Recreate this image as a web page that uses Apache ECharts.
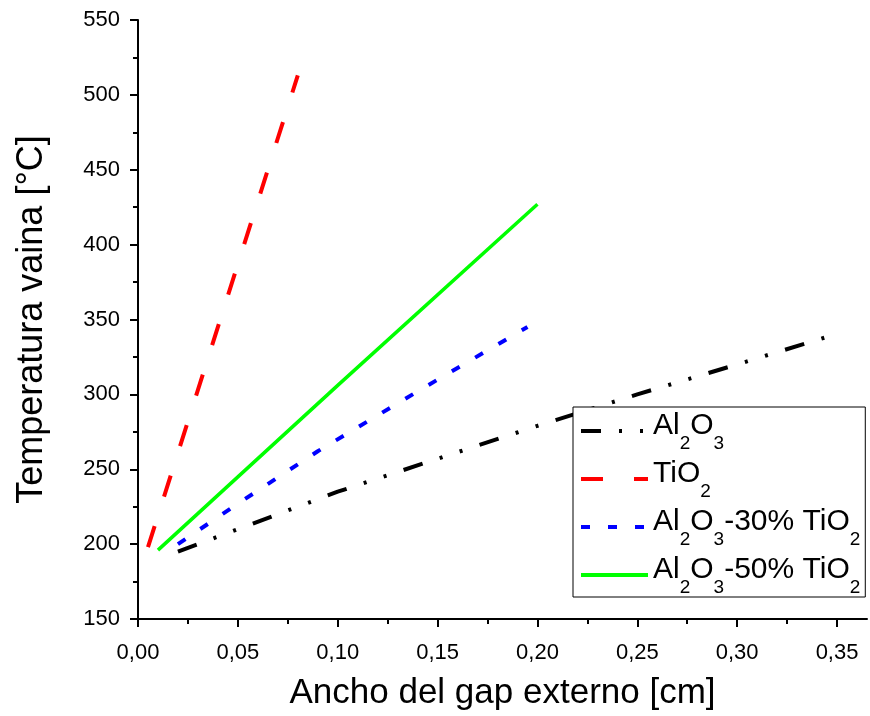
<!DOCTYPE html>
<html>
<head>
<meta charset="utf-8">
<script src="https://cdn.jsdelivr.net/npm/echarts@6/dist/echarts.min.js"></script>
<style>
  html, body { margin: 0; padding: 0; background: #fff; }
  #chart { width: 870px; height: 716px; }
</style>
</head>
<body>
<div id="chart"></div>
<script>
// values
var seriesNames = ['Al2O3', 'TiO2', 'Al2O3-30% TiO2', 'Al2O3-50% TiO2'];

var al2o3X = [0.02, 0.05, 0.10, 0.15, 0.20, 0.25, 0.30, 0.344];
var al2o3Y = [195, 210, 235, 257, 279, 300, 320, 338];

var tio2X = [0.005, 0.08];
var tio2Y = [198, 513];

var mix30X = [0.02, 0.05, 0.09, 0.14, 0.195];
var mix30Y = [200, 227, 262, 302, 345];

var mix50X = [0.01, 0.10, 0.20];
var mix50Y = [196, 306, 427];

var xMajorTicks = [0, 0.05, 0.10, 0.15, 0.20, 0.25, 0.30, 0.35];
var xMinorTicks = [0.025, 0.075, 0.125, 0.175, 0.225, 0.275, 0.325];

// legend labels with subscripts
var legendRich = {
    'Al2O3': '{n|Al}{s|2}{n|O}{s|3}',
    'TiO2': '{n|TiO}{s|2}',
    'Al2O3-30% TiO2': '{n|Al}{s|2}{n|O}{s|3}{n|-30% TiO}{s|2}',
    'Al2O3-50% TiO2': '{n|Al}{s|2}{n|O}{s|3}{n|-50% TiO}{s|2}'
};

function pairs(xs, ys) {
    var out = [];
    for (var i = 0; i < xs.length; i++) out.push([xs[i], ys[i]]);
    return out;
}

var fontFam = '"Liberation Sans", Arial, sans-serif';

var chart = echarts.init(document.getElementById('chart'));

var option = {
    backgroundColor: '#fff',
    animation: false,
    grid: { left: 138, top: 20, right: 3, bottom: 96 },
    legend: {
        orient: 'vertical',
        left: 573,
        top: 407,
        padding: [2, 5, 0, 6],
        itemGap: 4,
        itemWidth: 67,
        itemHeight: 14,
        backgroundColor: '#fff',
        borderColor: '#000',
        borderWidth: 1,
        z: 10,
        data: seriesNames,
        itemStyle: { opacity: 0 },
        lineStyle: { width: 4 },
        formatter: function (name) { return legendRich[name]; },
        textStyle: {
            fontFamily: fontFam,
            color: '#000',
            rich: {
                n: { fontSize: 30, lineHeight: 34, fontFamily: fontFam, color: '#000', padding: [0, 0, 10, 0] },
                s: { fontSize: 19, lineHeight: 20, fontFamily: fontFam, color: '#000', padding: [25, 0, 0, 0] }
            }
        }
    },
    xAxis: [{
        type: 'value',
        min: 0,
        max: 0.365,
        interval: 0.05,
        name: 'Ancho del gap externo [cm]',
        nameLocation: 'middle',
        nameGap: 57,
        nameTextStyle: { fontSize: 35, fontFamily: fontFam, color: '#000' },
        axisLine: { show: true, lineStyle: { color: '#000', width: 2 } },
        axisTick: { show: true, length: 8, inside: false, customValues: xMajorTicks,
            lineStyle: { color: '#000', width: 2 } },
        axisLabel: {
            customValues: xMajorTicks,
            fontSize: 22, fontFamily: fontFam, color: '#000', margin: 23,
            formatter: function (v) { return v.toFixed(2).replace('.', ','); }
        },
        splitLine: { show: false }
    }, {
        type: 'value',
        min: 0,
        max: 0.365,
        position: 'bottom',
        axisLine: { show: false },
        axisTick: { show: true, length: 5, customValues: xMinorTicks,
            lineStyle: { color: '#000', width: 2 } },
        axisLabel: { show: false },
        splitLine: { show: false }
    }],
    yAxis: {
        type: 'value',
        min: 150,
        max: 550,
        interval: 50,
        name: 'Temperatura vaina [°C]',
        nameLocation: 'middle',
        nameGap: 88,
        nameTextStyle: { fontSize: 36, fontFamily: fontFam, color: '#000' },
        axisLine: { show: true, lineStyle: { color: '#000', width: 2 } },
        axisTick: { show: true, length: 8, lineStyle: { color: '#000', width: 2 } },
        minorTick: { show: true, splitNumber: 2, length: 5, lineStyle: { color: '#000', width: 2 } },
        axisLabel: { fontSize: 22, fontFamily: fontFam, color: '#000', margin: 18 },
        splitLine: { show: false }
    },
    series: [{
        name: seriesNames[0],
        type: 'line',
        data: pairs(al2o3X, al2o3Y),
        showSymbol: false,
        symbol: 'none',
        itemStyle: { color: '#000' },
        lineStyle: { color: '#000', width: 4, type: [20, 18, 3, 18, 3, 18], cap: 'butt' }
    }, {
        name: seriesNames[1],
        type: 'line',
        data: pairs(tio2X, tio2Y),
        showSymbol: false,
        symbol: 'none',
        itemStyle: { color: '#ff0000' },
        lineStyle: { color: '#ff0000', width: 4, type: [22, 31], cap: 'butt' }
    }, {
        name: seriesNames[2],
        type: 'line',
        data: pairs(mix30X, mix30Y),
        showSymbol: false,
        symbol: 'none',
        itemStyle: { color: '#0000ff' },
        lineStyle: { color: '#0000ff', width: 4, type: [9, 18], cap: 'butt' }
    }, {
        name: seriesNames[3],
        type: 'line',
        data: pairs(mix50X, mix50Y),
        showSymbol: false,
        symbol: 'none',
        itemStyle: { color: '#00ff00' },
        lineStyle: { color: '#00ff00', width: 3.5, type: 'solid' }
    }]
};

chart.setOption(option);
</script>
</body>
</html>
